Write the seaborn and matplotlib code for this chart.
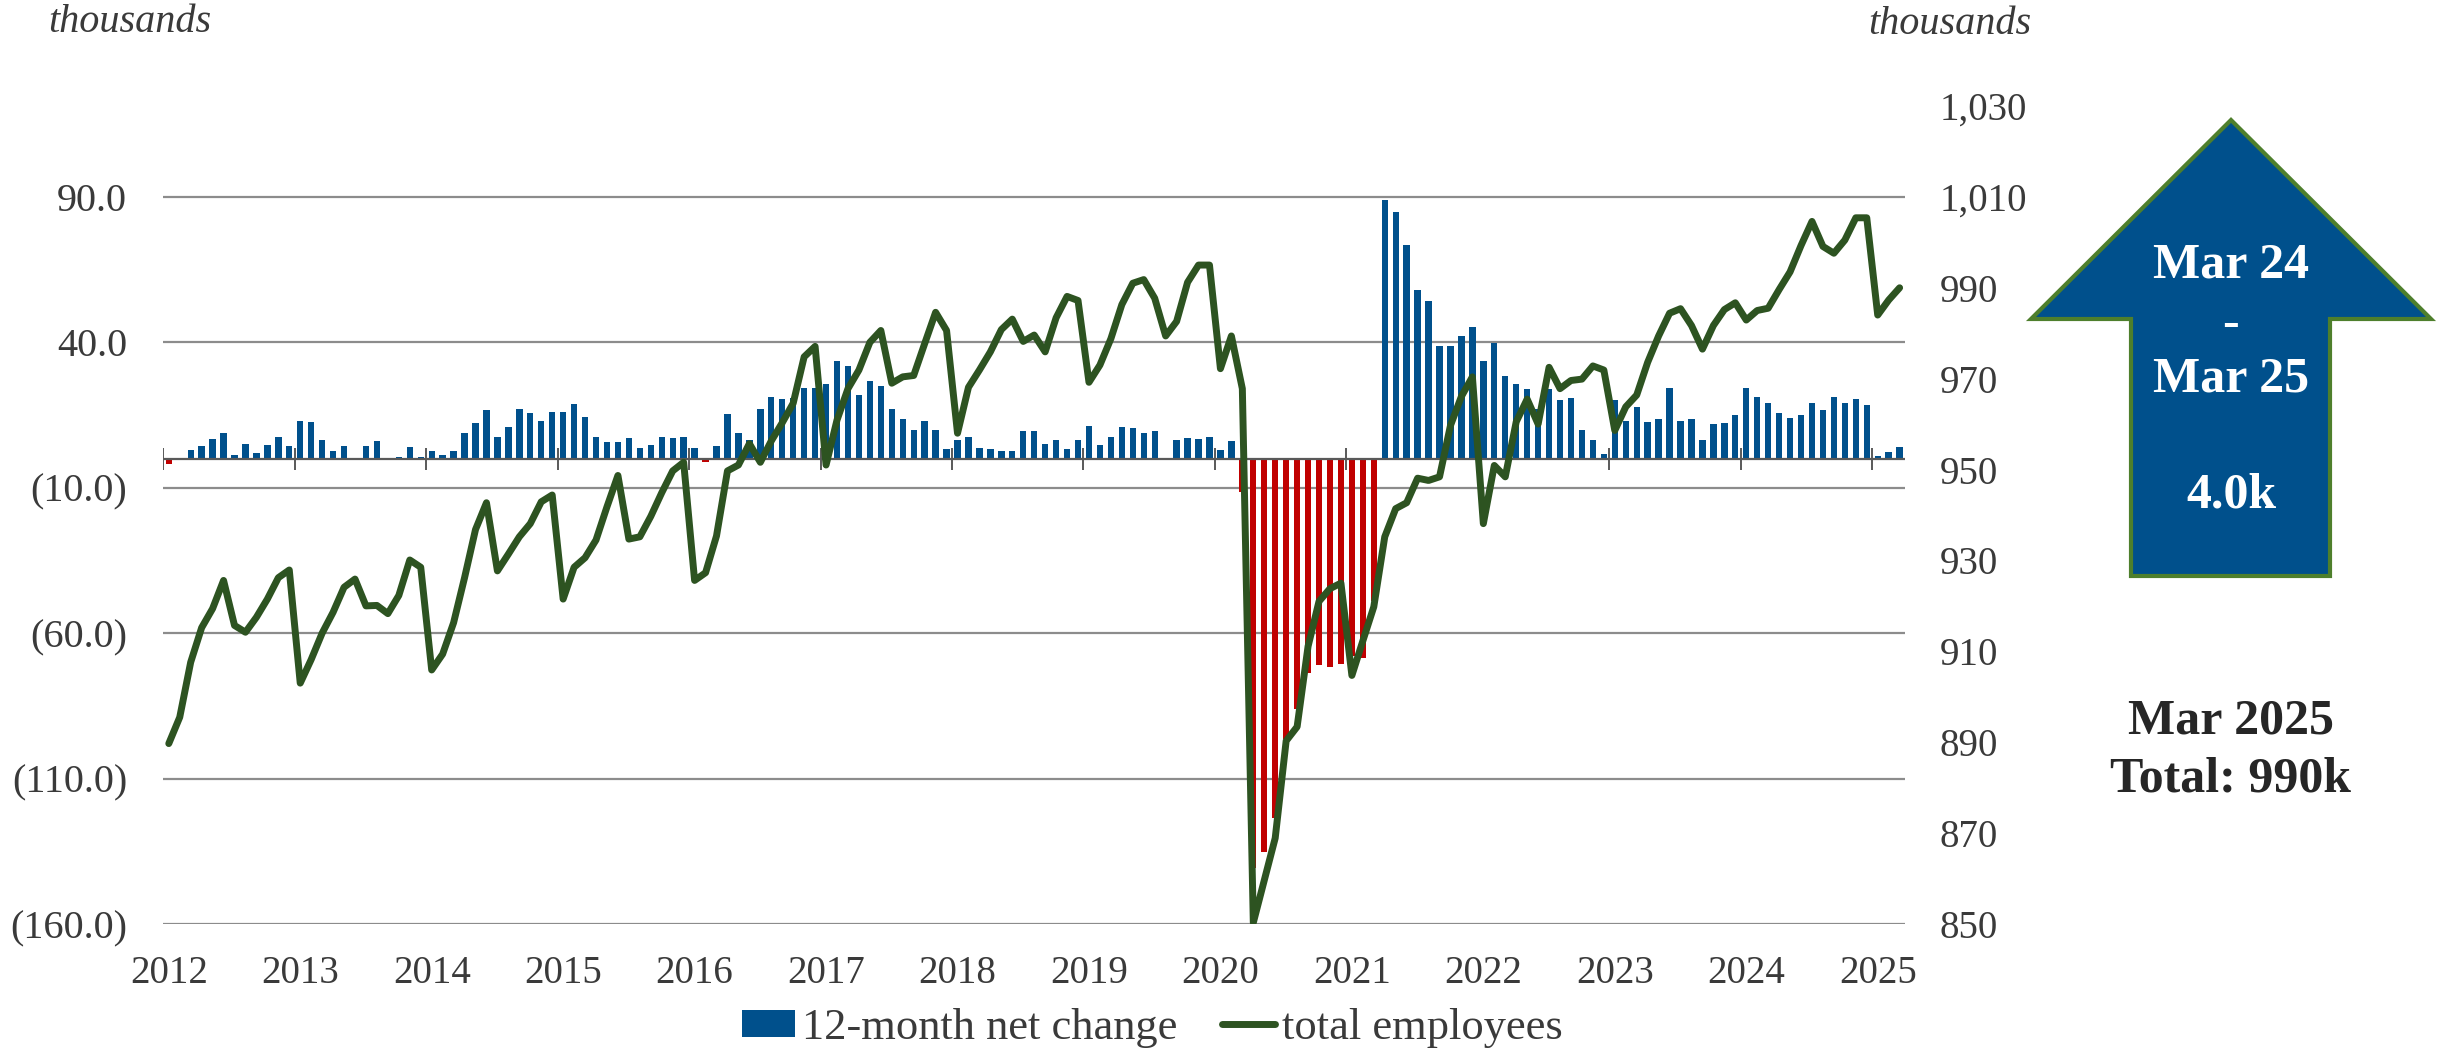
import numpy as np
import pandas as pd
import seaborn as sns
import matplotlib.pyplot as plt
from matplotlib.patches import Patch, Polygon
from matplotlib.lines import Line2D

sns.set_style("white")
plt.rcParams['font.family'] = ['Liberation Serif', 'DejaVu Serif']

# 12-month net change, thousands (Jan 2012 - Mar 2025)
net_change = [
    -2.0, 0.2, 3.1, 4.3, 6.9, 8.9, 1.3, 5.1, 1.8, 4.7, 7.6, 4.3,
    13.0, 12.7, 6.3, 2.7, 4.3, 0.1, 4.2, 6.0, 0.2, 0.4, 4.0, 0.5,
    2.7, 1.1, 2.7, 8.7, 12.3, 16.8, 7.4, 11.0, 17.0, 15.6, 13.0, 15.9,
    15.9, 18.8, 14.3, 7.4, 5.6, 5.8, 7.1, 3.6, 4.7, 7.4, 7.1, 7.6,
    3.8, -1.0, 4.5, 15.2, 8.9, 6.3, 17.0, 21.3, 20.4, 21.0, 24.2, 24.4,
    25.7, 33.6, 32.0, 21.9, 26.8, 25.1, 17.0, 13.7, 9.8, 12.8, 9.8, 3.3,
    6.5, 7.4, 3.6, 3.3, 2.5, 2.5, 9.4, 9.4, 5.2, 6.3, 3.4, 6.5,
    11.2, 4.7, 7.4, 10.8, 10.7, 8.9, 9.4, -0.3, 6.5, 7.2, 6.7, 7.6,
    2.9, 6.1, -11.4, -140.7, -135.3, -123.5, -96.4, -86.1, -73.8, -71.1, -71.6, -70.7,
    -67.8, -68.7, -48.8, 89.0, 84.8, 73.6, 57.9, 54.2, 38.9, 38.9, 42.3, 45.2,
    33.5, 39.6, 28.4, 25.5, 23.9, 17.0, 23.9, 20.3, 21.0, 9.8, 6.3, 1.6,
    20.1, 12.8, 17.9, 12.5, 13.7, 24.4, 12.8, 13.7, 6.5, 11.8, 12.1, 15.0,
    24.2, 21.2, 19.0, 15.6, 14.1, 15.0, 19.2, 16.6, 21.2, 19.0, 20.4, 18.3,
    0.9, 2.4, 4.0,
]

# total employees, thousands
total_employees = [
    889.7, 895.5, 907.6, 915.2, 919.4, 925.6, 915.7, 914.2, 917.5, 921.5, 926.2, 927.9,
    903.0, 908.2, 914.0, 918.6, 924.1, 925.9, 920.0, 920.1, 918.3, 922.3, 930.1, 928.5,
    905.9, 909.4, 916.3, 926.2, 936.8, 942.7, 927.7, 931.4, 935.2, 938.1, 942.9, 944.4,
    921.5, 928.5, 930.6, 934.5, 941.8, 948.7, 934.7, 935.2, 939.7, 944.9, 949.7, 951.6,
    925.6, 927.3, 935.4, 949.7, 951.0, 955.7, 951.6, 956.3, 960.3, 964.6, 974.8, 977.1,
    951.0, 960.9, 967.8, 971.9, 978.0, 980.6, 969.0, 970.4, 970.7, 977.7, 984.6, 980.6,
    958.0, 968.1, 971.9, 975.9, 980.8, 983.1, 978.2, 979.6, 975.9, 983.4, 988.1, 987.2,
    969.2, 973.0, 978.8, 986.3, 991.0, 991.8, 987.7, 979.4, 982.6, 991.2, 995.0, 995.0,
    972.2, 979.4, 967.8, 850.3, 859.6, 868.9, 890.3, 893.4, 911.1, 921.0, 923.8, 925.0,
    904.7, 912.3, 919.8, 935.2, 941.4, 942.7, 948.1, 947.6, 948.4, 959.7, 966.1, 970.4,
    938.1, 950.9, 948.4, 960.5, 965.5, 960.0, 972.5, 967.8, 969.6, 969.9, 972.8, 971.9,
    958.6, 963.8, 966.4, 973.6, 979.4, 984.4, 985.4, 981.7, 976.5, 981.7, 985.2, 986.7,
    982.9, 985.0, 985.5, 989.6, 993.5, 999.3, 1004.6, 999.1, 997.6, 1000.5, 1005.4, 1005.4,
    984.0, 987.3, 990.0,
]

years = [str(y) for y in range(2012, 2026)]
left_ticks = [90, 40, -10, -60, -110, -160]
left_labels = ["90.0", "40.0", "(10.0)", "(60.0)", "(110.0)", "(160.0)"]
right_ticks = list(range(850, 1031, 20))

BLUE = "#00508C"
RED = "#C00000"
GREEN = "#2D5321"
TXT = "#3A3A3A"

df = pd.DataFrame({
    "month": pd.date_range("2012-01-01", periods=len(net_change), freq="MS"),
    "change": net_change,
    "total": total_employees,
})
df["pos"] = np.arange(len(df))
df["sign"] = np.where(df["change"] < 0, "neg", "pos")

W, H = 2447, 1051
fig = plt.figure(figsize=(W / 100, H / 100), dpi=100)
ax = fig.add_axes([163.3 / W, (H - 924) / H, (1905.1 - 163.3) / W, (924 - 106) / H])

sns.barplot(data=df, x="pos", y="change", hue="sign", palette={"pos": BLUE, "neg": RED},
            dodge=False, saturation=1, width=0.58, legend=False, ax=ax, zorder=2,
            linewidth=0, edgecolor="none")
ax.set_xlim(-0.5, len(df) - 0.5)
ax.set_ylim(-160, 90 + 20 * 250 / 160)
ax.set_yticks(left_ticks)
ax.set_yticklabels(left_labels)
ax.set_xticks(np.arange(0, len(df), 12))
ax.set_xticklabels(years)
ax.set_xlabel("")
ax.set_ylabel("")
ax.yaxis.grid(True, color="#8C8C8C", lw=1.6)
ax.set_axisbelow(True)
ax.tick_params(axis="y", length=0, pad=26, labelsize=29, labelcolor=TXT)
ax.tick_params(axis="x", length=0, pad=22, labelsize=28, labelcolor=TXT)
for s in ax.spines.values():
    s.set_visible(False)

# zero line with year-boundary ticks
ax.axhline(0, color="#595959", lw=1.6, zorder=3)
ax.vlines(np.arange(-0.5, len(df), 12), -3.8, 3.8, color="#595959", lw=1.4, zorder=3)

ax2 = ax.twinx()
sns.lineplot(data=df, x="pos", y="total", color=GREEN, lw=5, ax=ax2)
ax2.set_ylim(850, 1030)
ax2.set_yticks(right_ticks)
ax2.set_yticklabels([f"{v:,}" for v in right_ticks])
ax2.set_ylabel("")
ax2.tick_params(axis="y", length=0, pad=25, labelsize=28, labelcolor=TXT)
for s in ax2.spines.values():
    s.set_visible(False)

fig.text(48 / W, 1 - 22 / H, "thousands", fontsize=29, style="italic", color=TXT,
         ha="left", va="center")
fig.text(2031 / W, 1 - 25 / H, "thousands", fontsize=29, style="italic", color=TXT,
         ha="right", va="center")

handles = [Patch(facecolor=BLUE, edgecolor="none", label="12-month net change"),
           Line2D([0], [0], color=GREEN, lw=5, label="total employees")]
fig.legend(handles=handles, loc="center", bbox_to_anchor=(1152 / W, 1 - 1028 / H), ncol=2,
           frameon=False, fontsize=32, handlelength=1.2, handleheight=0.55,
           handletextpad=0.15, columnspacing=1.0, labelcolor=TXT)

# summary arrow on the right
over = fig.add_axes([0, 0, 1, 1], zorder=5)
over.set_xlim(0, W)
over.set_ylim(H, 0)
over.axis("off")
arrow = Polygon([(2231, 120), (2431, 319), (2330, 319), (2330, 576), (2131, 576),
                 (2131, 319), (2031, 319)], closed=True, facecolor=BLUE,
                edgecolor="#4E7F2C", lw=3)
over.add_patch(arrow)
for y, s in [(266, "Mar 24"), (325, "-"), (380, "Mar 25"), (496, "4.0k")]:
    over.text(2231, y, s, color="white", fontsize=36, fontweight="bold",
              ha="center", va="center")
over.text(2231, 722, "Mar 2025", color="#262626", fontsize=36, fontweight="bold",
          ha="center", va="center")
over.text(2231, 780, "Total: 990k", color="#262626", fontsize=36, fontweight="bold",
          ha="center", va="center")

fig.savefig("out.png", dpi=100)
